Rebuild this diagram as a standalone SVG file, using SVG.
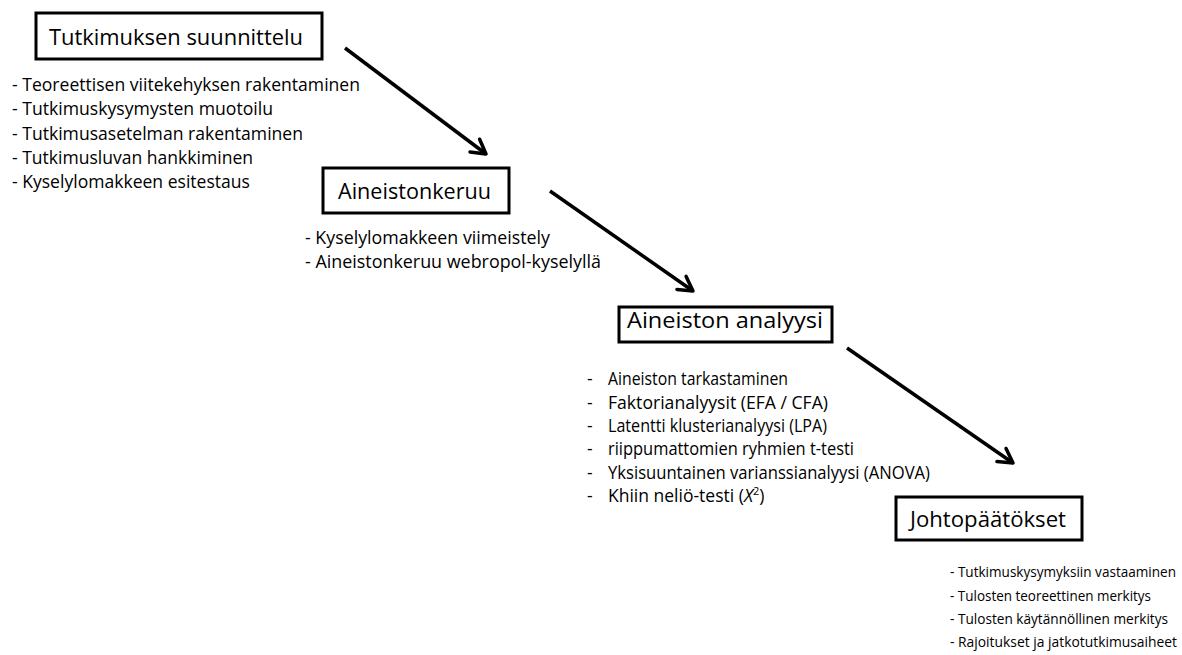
<svg xmlns="http://www.w3.org/2000/svg" width="1182" height="655" viewBox="0 0 1182 655">
<defs>
<style>
.box{fill:#fff;stroke:#000;stroke-width:3}
.title{font-family:"Open Sans","Liberation Sans",sans-serif;font-size:21px;fill:#000}
.item{font-family:"Open Sans","Liberation Sans",sans-serif;font-size:17.5px;fill:#000}
.small{font-size:13.8px}
.conn{fill:none;stroke:#000;stroke-width:3.5;marker-end:url(#arr)}
</style>
<marker id="arr" markerUnits="userSpaceOnUse" markerWidth="30" markerHeight="30" viewBox="-20 -15 30 30" refX="0" refY="0" orient="auto">
<path d="M-14,-8 L0,0 L-14,8" fill="none" stroke="#000" stroke-width="3.5" stroke-linecap="round" stroke-linejoin="round"/>
</marker>
</defs>
<rect width="1182" height="655" fill="#fff"/>
<g id="connectors">
<line class="conn" x1="345" y1="48" x2="486" y2="154"/>
<line class="conn" x1="550" y1="191" x2="693" y2="291"/>
<line class="conn" x1="847" y1="348" x2="1013" y2="463"/>
</g>
<g id="node-suunnittelu">
<rect class="box" x="36" y="13" width="286" height="46"/>
<text class="title" x="49" y="45" textLength="254" lengthAdjust="spacingAndGlyphs">Tutkimuksen suunnittelu</text>
<text class="item" x="12" y="91" textLength="348" lengthAdjust="spacingAndGlyphs">- Teoreettisen viitekehyksen rakentaminen</text>
<text class="item" x="12" y="115" textLength="261" lengthAdjust="spacingAndGlyphs">- Tutkimuskysymysten muotoilu</text>
<text class="item" x="12" y="139.5" textLength="291" lengthAdjust="spacingAndGlyphs">- Tutkimusasetelman rakentaminen</text>
<text class="item" x="12" y="164" textLength="241" lengthAdjust="spacingAndGlyphs">- Tutkimusluvan hankkiminen</text>
<text class="item" x="12" y="188" textLength="238" lengthAdjust="spacingAndGlyphs">- Kyselylomakkeen esitestaus</text>
</g>
<g id="node-aineistonkeruu">
<rect class="box" x="323" y="168" width="186" height="45"/>
<text class="title" x="338" y="199" textLength="153" lengthAdjust="spacingAndGlyphs">Aineistonkeruu</text>
<text class="item" x="305" y="244" textLength="245" lengthAdjust="spacingAndGlyphs">- Kyselylomakkeen viimeistely</text>
<text class="item" x="305" y="268" textLength="296" lengthAdjust="spacingAndGlyphs">- Aineistonkeruu webropol-kyselyllä</text>
</g>
<g id="node-analyysi">
<rect class="box" x="619" y="307" width="213" height="35"/>
<text class="title" x="627" y="328" textLength="196" lengthAdjust="spacingAndGlyphs">Aineiston analyysi</text>
<text class="item" x="587" y="385">-</text>
<text class="item" x="587" y="408.5">-</text>
<text class="item" x="587" y="432">-</text>
<text class="item" x="587" y="455">-</text>
<text class="item" x="587" y="478.5">-</text>
<text class="item" x="587" y="502">-</text>
<text class="item" x="608" y="385" textLength="180" lengthAdjust="spacingAndGlyphs">Aineiston tarkastaminen</text>
<text class="item" x="608" y="408.5" textLength="220" lengthAdjust="spacingAndGlyphs">Faktorianalyysit (EFA / CFA)</text>
<text class="item" x="608" y="432" textLength="219" lengthAdjust="spacingAndGlyphs">Latentti klusterianalyysi (LPA)</text>
<text class="item" x="608" y="455" textLength="246" lengthAdjust="spacingAndGlyphs">riippumattomien ryhmien t-testi</text>
<text class="item" x="608" y="478.5" textLength="322" lengthAdjust="spacingAndGlyphs">Yksisuuntainen varianssianalyysi (ANOVA)</text>
<text class="item" x="608" y="502">Khiin neliö-testi (<tspan font-style="italic">X</tspan><tspan font-size="11" dy="-7">2</tspan><tspan dy="7">)</tspan></text>
</g>
<g id="node-johtopaatokset">
<rect class="box" x="896" y="497" width="186" height="43"/>
<text class="title" x="910" y="527" textLength="156" lengthAdjust="spacingAndGlyphs">Johtopäätökset</text>
<text class="item small" x="950" y="577" textLength="226" lengthAdjust="spacingAndGlyphs">- Tutkimuskysymyksiin vastaaminen</text>
<text class="item small" x="950" y="601" textLength="201" lengthAdjust="spacingAndGlyphs">- Tulosten teoreettinen merkitys</text>
<text class="item small" x="950" y="624" textLength="218" lengthAdjust="spacingAndGlyphs">- Tulosten käytännöllinen merkitys</text>
<text class="item small" x="950" y="647" textLength="227" lengthAdjust="spacingAndGlyphs">- Rajoitukset ja jatkotutkimusaiheet</text>
</g>
</svg>
